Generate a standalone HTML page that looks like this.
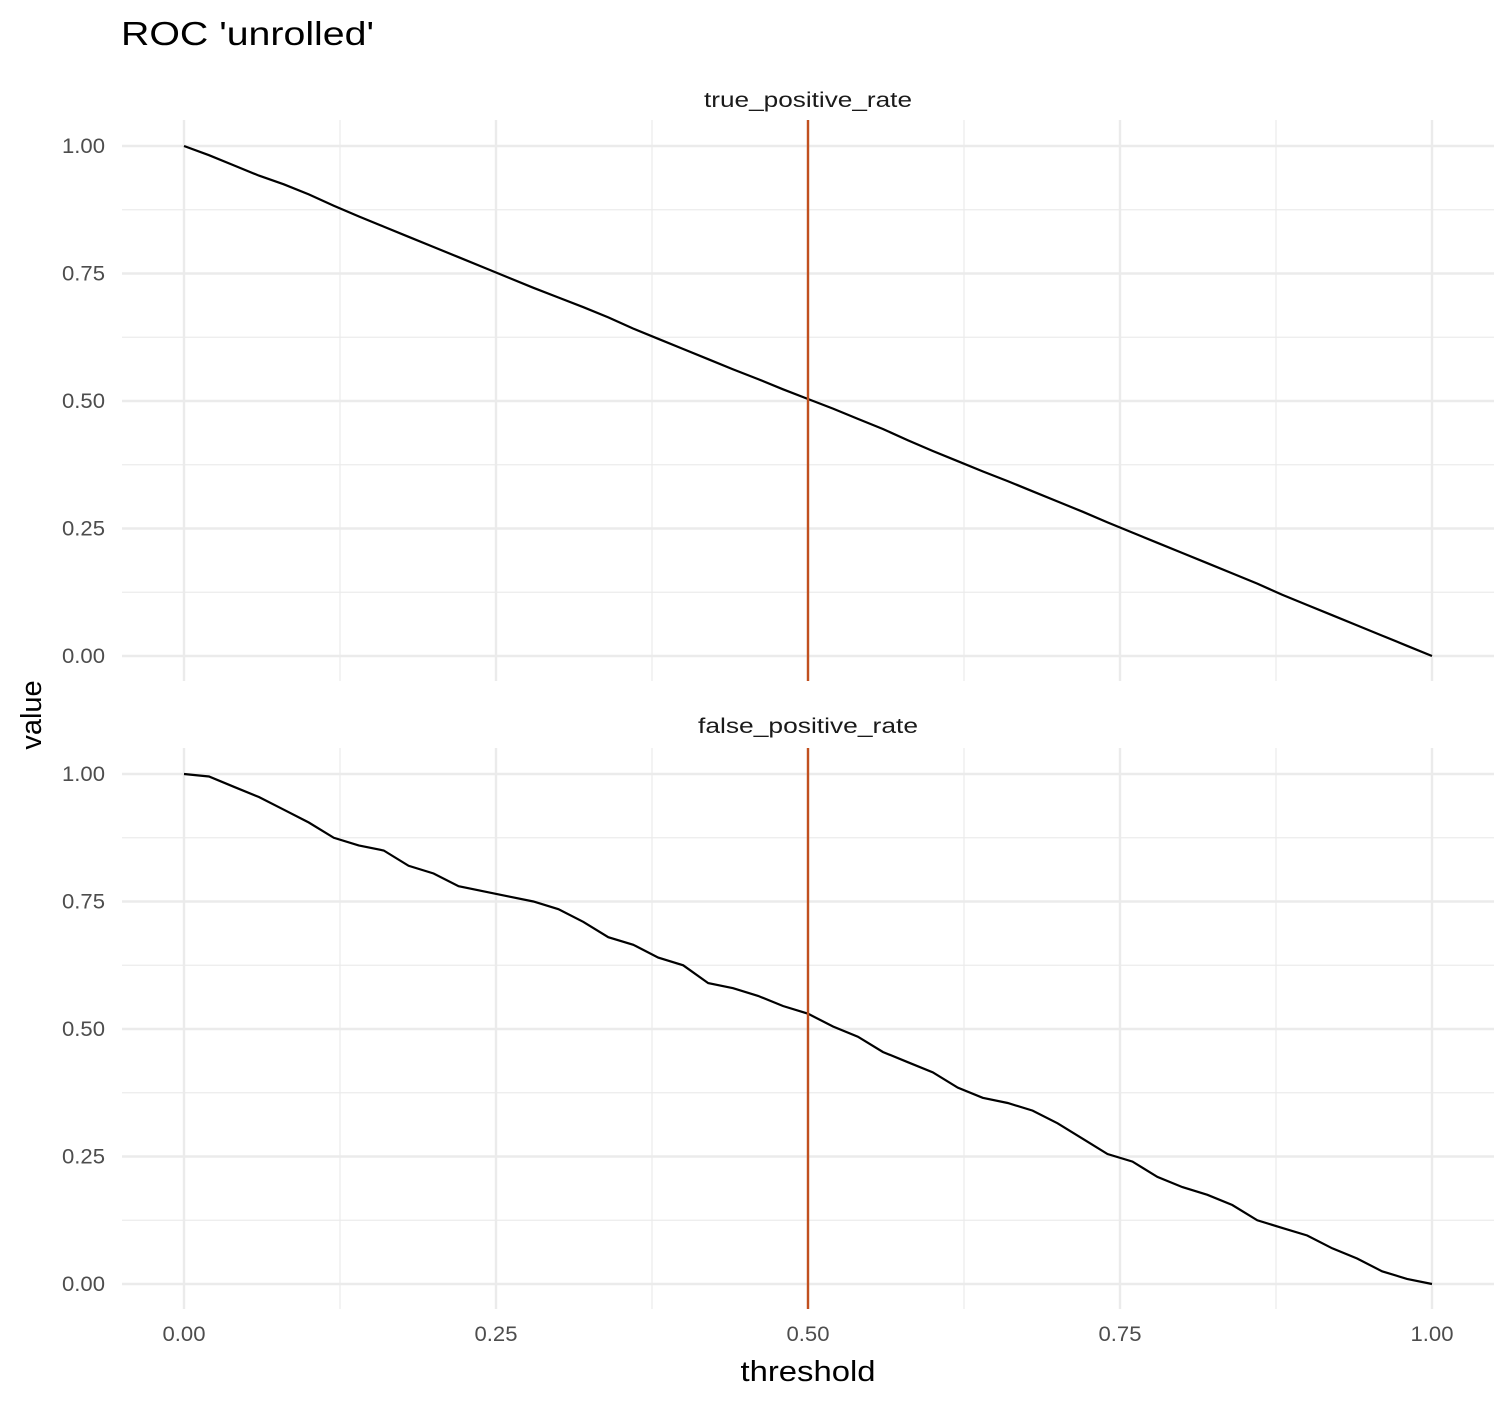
<!DOCTYPE html>
<html><head><meta charset="utf-8"><style>
body{margin:0;background:#fff;}
svg text{font-family:"Liberation Sans",Arial,sans-serif;}
</style></head><body>
<svg id="chart" width="1512" height="1404" viewBox="0 0 1512 1404" xmlns="http://www.w3.org/2000/svg">
<rect width="1512" height="1404" fill="#fff"/>
<text x="121" y="45" font-size="33" textLength="253" lengthAdjust="spacingAndGlyphs" fill="#000">ROC 'unrolled'</text>
<text x="808" y="1381" font-size="29" text-anchor="middle" textLength="135" lengthAdjust="spacingAndGlyphs" fill="#000">threshold</text>
<text transform="translate(41,715) rotate(-90)" font-size="29" text-anchor="middle" fill="#000">value</text>
<g id="panels"></g>
</svg>
<script>
const xs = [0,0.02,0.04,0.06,0.08,0.10,0.12,0.14,0.16,0.18,0.20,0.22,0.24,0.26,0.28,0.30,0.32,0.34,0.36,0.38,0.40,0.42,0.44,0.46,0.48,0.50,0.52,0.54,0.56,0.58,0.60,0.62,0.64,0.66,0.68,0.70,0.72,0.74,0.76,0.78,0.80,0.82,0.84,0.86,0.88,0.90,0.92,0.94,0.96,0.98,1.00];
const tprValues = [1.00,0.982,0.962,0.942,0.925,0.905,0.883,0.862,0.842,0.822,0.802,0.782,0.762,0.742,0.722,0.703,0.684,0.664,0.642,0.622,0.602,0.582,0.562,0.543,0.523,0.504,0.485,0.465,0.445,0.423,0.402,0.382,0.362,0.343,0.323,0.303,0.283,0.262,0.242,0.222,0.202,0.182,0.162,0.142,0.120,0.100,0.080,0.060,0.040,0.020,0.00];
const fprValues = [1.00,0.995,0.975,0.955,0.93,0.905,0.875,0.86,0.85,0.82,0.805,0.78,0.77,0.76,0.75,0.735,0.71,0.68,0.665,0.64,0.625,0.59,0.58,0.565,0.545,0.53,0.505,0.485,0.455,0.435,0.415,0.385,0.365,0.355,0.34,0.315,0.285,0.255,0.24,0.21,0.19,0.175,0.155,0.125,0.11,0.095,0.07,0.05,0.025,0.01,0.00];
const tickValues = [0,0.25,0.5,0.75,1];
const tickLabels = ["0.00","0.25","0.50","0.75","1.00"];
const minorValues = [0.125,0.375,0.625,0.875];
const panelNames = ["true_positive_rate","false_positive_rate"];
const thresholdValue = 0.5;

const NS="http://www.w3.org/2000/svg";
const g=document.getElementById('panels');
const xScale=v=>184+1248*v;
function mk(tag,attrs,parent){const e=document.createElementNS(NS,tag);for(const k in attrs)e.setAttribute(k,attrs[k]);parent.appendChild(e);return e;}
const panels=[{top:120,bot:681,y1:146,y0:656,data:tprValues,label:100},{top:748,bot:1309,y1:774,y0:1284,data:fprValues,label:726}];
panels.forEach((p,i)=>{
  const yScale=v=>p.y0+(p.y1-p.y0)*v;
  const pg=mk('g',{},g);
  
  
  minorValues.forEach(v=>{
    const a=mk('line',{x1:122,x2:1494,y1:yScale(v),y2:yScale(v),stroke:'#ebebeb','stroke-width':1.2},pg);
    
    const b=mk('line',{x1:xScale(v),x2:xScale(v),y1:p.top,y2:p.bot,stroke:'#ebebeb','stroke-width':1.2},pg);
    
  });
  tickValues.forEach((v,j)=>{
    const a=mk('line',{x1:122,x2:1494,y1:yScale(v),y2:yScale(v),stroke:'#ebebeb','stroke-width':2.4},pg);
    
    const b=mk('line',{x1:xScale(v),x2:xScale(v),y1:p.top,y2:p.bot,stroke:'#ebebeb','stroke-width':2.4},pg);
    
    const t=mk('text',{x:105,y:yScale(v)+7,'font-size':21,fill:'#4d4d4d','text-anchor':'end',textLength:43,lengthAdjust:'spacingAndGlyphs'},pg);
    t.textContent=tickLabels[j];
    
  });
  const s=mk('text',{x:808,y:p.label+7,'font-size':21,fill:'#1a1a1a','text-anchor':'middle',textLength:i===0?208:220,lengthAdjust:'spacingAndGlyphs'},pg);
  s.textContent=panelNames[i];
  
  const pts=xs.map((x,k)=>xScale(x).toFixed(1)+','+yScale(p.data[k]).toFixed(1)).join(' ');
  const l=mk('polyline',{points:pts,fill:'none',stroke:'#000','stroke-width':2.2},pg);
  
  const v=mk('line',{x1:xScale(thresholdValue),x2:xScale(thresholdValue),y1:p.top,y2:p.bot,stroke:'#c1501f','stroke-width':2.4},pg);
  
});
tickValues.forEach((v,j)=>{
  const t=mk('text',{x:xScale(v),y:1341,'font-size':21,fill:'#4d4d4d','text-anchor':'middle',textLength:43,lengthAdjust:'spacingAndGlyphs'},g);
  t.textContent=tickLabels[j];
  
});
</script>
</body></html>
